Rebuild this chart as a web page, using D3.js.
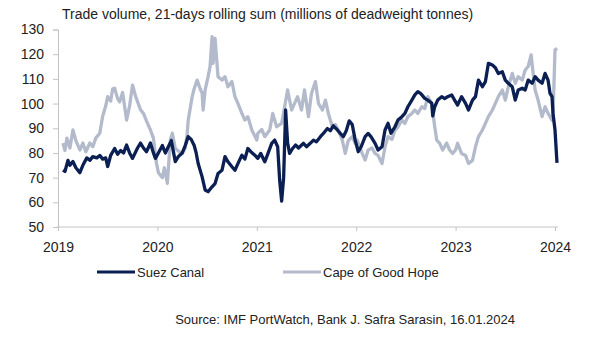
<!DOCTYPE html>
<html>
<head>
<meta charset="utf-8">
<script src="https://cdn.jsdelivr.net/npm/d3@7"></script>
<style>
  body { margin: 0; background: #fff; }
  text { font-family: "Liberation Sans", Arial, sans-serif; fill: #222; }
</style>
</head>
<body>
<div id="chart-area"></div>
<script>
// time as decimal years, values in millions of dwt
var suezTimes = [2019.05,2019.07,2019.10,2019.12,2019.15,2019.18,2019.22,2019.25,2019.29,2019.32,2019.35,2019.39,2019.42,2019.45,2019.48,2019.50,2019.53,2019.57,2019.60,2019.63,2019.66,2019.69,2019.72,2019.75,2019.80,2019.83,2019.86,2019.89,2019.93,2019.96,2019.98,
  2020.01,2020.05,2020.08,2020.11,2020.14,2020.18,2020.21,2020.25,2020.28,2020.31,2020.34,2020.37,2020.39,2020.41,2020.45,2020.48,2020.51,2020.55,2020.58,2020.61,2020.65,2020.68,2020.71,2020.75,2020.78,2020.81,2020.85,2020.88,2020.91,2020.94,2020.98,
  2021.01,2021.04,2021.08,2021.11,2021.15,2021.18,2021.21,2021.23,2021.25,2021.27,2021.29,2021.31,2021.33,2021.36,2021.39,2021.42,2021.47,2021.50,2021.54,2021.57,2021.60,2021.64,2021.67,2021.71,2021.74,2021.77,2021.81,2021.84,2021.87,2021.90,2021.93,2021.96,2021.99,
  2022.02,2022.05,2022.09,2022.12,2022.15,2022.19,2022.22,2022.26,2022.29,2022.32,2022.35,2022.39,2022.42,2022.46,2022.49,2022.52,2022.56,2022.59,2022.62,2022.65,2022.69,2022.72,2022.76,2022.77,2022.79,2022.82,2022.86,2022.89,2022.92,2022.96,2022.99,
  2023.02,2023.06,2023.10,2023.13,2023.17,2023.20,2023.23,2023.27,2023.30,2023.33,2023.37,2023.40,2023.43,2023.47,2023.50,2023.53,2023.57,2023.60,2023.63,2023.67,2023.70,2023.73,2023.77,2023.80,2023.83,2023.87,2023.90,2023.93,2023.95,2023.97,2023.98,2024.00,2024.02];
var suezValues = [73,72.5,77,75,76.5,74,72,75,78,77,78.5,78,79,77.5,78,74.5,79,81.8,79.5,81,80,83.2,80,77.8,82,84,82,80.5,84,80,77.8,
  80,83,80,82.5,85,76.5,78.5,80,83,86.6,85.5,83,80,75.7,70.3,65,64.3,66.3,67.6,71.7,73,78.5,76.4,74.4,73,75.7,79.1,77.5,81.8,80.5,79.1,
  77.8,79.8,76.4,79.5,83.9,85.2,82.5,69,60.5,70,97.4,84,79.8,81.8,83.2,82,83.9,82.5,84,85.2,84.5,86.6,87.9,89.9,89,91,89.3,87.9,86.6,89,93,91.5,85.2,
  80.5,82.5,86.6,87.9,86.5,83.9,81.2,82.5,89.3,92,88,90.6,93.3,94.7,96,98.7,101.4,103.5,104.8,104,102.1,101.4,100.1,95,98.7,101.4,102.8,102,102.8,103.5,101.4,
  99.4,102.8,100.1,97.4,101.4,102.8,109.5,106.8,108.9,116.3,115.6,114.5,112.2,112.9,109.5,108.2,106.8,101.4,105.5,106.2,105.5,109.5,108.2,110.9,109.5,108.2,112.2,109.5,104.1,102.8,96,89.3,76];

var capeTimes = [2019.05,2019.07,2019.09,2019.12,2019.15,2019.18,2019.22,2019.25,2019.28,2019.32,2019.35,2019.38,2019.42,2019.45,2019.48,2019.50,2019.53,2019.55,2019.57,2019.60,2019.62,2019.65,2019.69,2019.72,2019.75,2019.78,2019.83,2019.86,2019.89,2019.93,2019.96,2019.99,
  2020.01,2020.05,2020.07,2020.10,2020.13,2020.15,2020.18,2020.22,2020.25,2020.28,2020.30,2020.31,2020.35,2020.37,2020.40,2020.43,2020.45,2020.46,2020.48,2020.51,2020.53,2020.55,2020.56,2020.58,2020.61,2020.65,2020.68,2020.71,2020.75,2020.78,2020.81,2020.85,2020.88,2020.91,2020.95,
  2021.00,2021.01,2021.05,2021.08,2021.13,2021.16,2021.20,2021.25,2021.28,2021.31,2021.35,2021.38,2021.41,2021.45,2021.48,2021.52,2021.55,2021.59,2021.62,2021.66,2021.69,2021.72,2021.76,2021.79,2021.82,2021.86,2021.89,2021.92,2021.96,2021.99,
  2022.01,2022.04,2022.06,2022.09,2022.12,2022.16,2022.19,2022.22,2022.26,2022.29,2022.32,2022.36,2022.39,2022.42,2022.46,2022.49,2022.52,2022.56,2022.59,2022.62,2022.66,2022.69,2022.72,2022.76,2022.79,2022.81,2022.84,2022.87,2022.91,2022.94,2022.97,2023.00,
  2023.02,2023.06,2023.10,2023.13,2023.17,2023.20,2023.23,2023.27,2023.30,2023.33,2023.37,2023.40,2023.43,2023.47,2023.50,2023.53,2023.57,2023.60,2023.63,2023.67,2023.70,2023.73,2023.76,2023.78,2023.80,2023.83,2023.87,2023.90,2023.93,2023.97,2023.98,2024.00,2024.02];
var capeValues = [84,81,86,82,89.3,85,81.2,84,80.5,84,82.5,86,88,95,99,102.8,101,106,106.2,102,100.7,104.5,93.3,99,107.5,103,97.5,96,93,89.3,86,76,
  72,70,74,67.7,85.2,88,81.8,80.5,79.8,82,87.9,93.3,102.8,106,109.5,106,104.1,97.4,105.5,110.9,115,127.1,116.3,126.4,110.9,109.5,110.9,106.8,108.9,102.8,100.1,96,93.3,94.7,89.3,
  85.2,87.9,89.5,86.6,89.3,96,90.6,92,98.7,105.5,97.4,100.1,102.8,97.4,105.5,94.7,104.1,108.9,100.1,97.4,101.4,96,90.6,91.5,89.3,85.2,79.8,85,86.6,83.9,
  85.2,82,79.8,77.1,81.2,82,79.8,79,75.7,82.5,86.6,85.5,89.3,90.5,93.3,92,94.7,96,97.4,96,98.7,98,102.8,100.1,90.6,85.2,83.9,81.2,84,81.2,79.8,81.2,
  83.9,79.8,79,75.7,77,82.5,86.6,89.3,92,94.7,97.4,100.1,102.8,105.5,101.4,106.8,112.2,108.2,110.9,109.5,113.6,115,119.7,112.2,105.5,101.4,94.7,98.7,96,93.3,95,121.7,122.4];

var yTicks = [50, 60, 70, 80, 90, 100, 110, 120, 130];
var xTicks = [2019, 2020, 2021, 2022, 2023, 2024];
var seriesNames = ["Suez Canal", "Cape of Good Hope"];
var seriesColors = ["#0b1f52", "#b3bacb"];

var W = 589, H = 337;
var margin = { top: 29.5, left: 58, right: 34, bottom: 110 };

var svg = d3.select("#chart-area")
    .append("svg")
        .attr("width", W)
        .attr("height", H);

var x = d3.scaleLinear()
    .domain([2019, 2024])
    .range([margin.left, W - margin.right]);

var y = d3.scaleLinear()
    .domain([50, 130])
    .range([H - margin.bottom, margin.top]);

// title
svg.append("text")
    .attr("x", 62)
    .attr("y", 18.5)
    .attr("font-size", "14px")
    .text("Trade volume, 21-days rolling sum (millions of deadweight tonnes)");

// axes
var yAxis = svg.append("g")
    .attr("transform", "translate(" + margin.left + ",0)")
    .call(d3.axisLeft(y).tickValues(yTicks).tickSize(5).tickPadding(9));

var xAxis = svg.append("g")
    .attr("transform", "translate(0," + y(50) + ")")
    .call(d3.axisBottom(x).tickValues(xTicks).tickFormat(d3.format("d")).tickSize(4).tickPadding(11));

[yAxis, xAxis].forEach(function(a) {
    a.selectAll("path, line").attr("stroke", "#c4c4c4");
    a.selectAll("text")
        .attr("font-size", "14px")
        .attr("font-family", "Liberation Sans, Arial, sans-serif")
        .attr("fill", "#222");
});
xAxis.select(".domain").attr("d", "M" + (x(2019) - 1) + ",0H" + (x(2024.02) + 1));

var line = d3.line()
    .x(function(d) { return x(d[0]); })
    .y(function(d) { return y(d[1]); });

var capeData = d3.zip(capeTimes, capeValues);
var suezData = d3.zip(suezTimes, suezValues);

svg.append("path")
    .datum(capeData)
    .attr("fill", "none")
    .attr("stroke", seriesColors[1])
    .attr("stroke-width", 3.3)
    .attr("stroke-linejoin", "round")
    .attr("d", line);

svg.append("path")
    .datum(suezData)
    .attr("fill", "none")
    .attr("stroke", seriesColors[0])
    .attr("stroke-width", 3.3)
    .attr("stroke-linejoin", "round")
    .attr("d", line);

// legend
var legendX = [97, 283];
seriesNames.forEach(function(name, i) {
    svg.append("line")
        .attr("x1", legendX[i]).attr("x2", legendX[i] + 38)
        .attr("y1", 272).attr("y2", 272)
        .attr("stroke", seriesColors[i])
        .attr("stroke-width", 3);
    svg.append("text")
        .attr("x", legendX[i] + 40)
        .attr("y", 277)
        .attr("font-size", "13px")
        .text(name);
});

// source
svg.append("text")
    .attr("x", 515)
    .attr("y", 324)
    .attr("text-anchor", "end")
    .attr("font-size", "13px")
    .text("Source: IMF PortWatch, Bank J. Safra Sarasin, 16.01.2024");
</script>
</body>
</html>
